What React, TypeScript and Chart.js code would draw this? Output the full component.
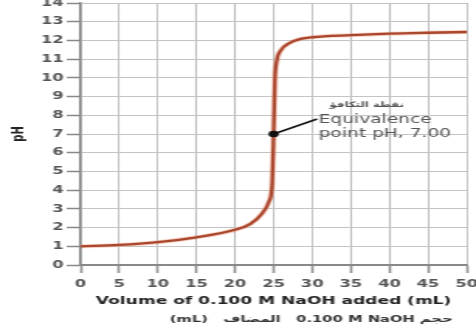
import React, { useEffect, useRef } from 'react';
import { Chart, registerables } from 'chart.js';

Chart.register(...registerables);

// ---- data ----
const volumeML = [0, 5, 10, 15, 20, 22, 23.5, 24.4, 24.8, 25, 25.15, 25.4, 25.9, 27, 28.5, 30, 35, 40, 45, 50];
const pHValues = [1.0, 1.07, 1.22, 1.48, 1.88, 2.2, 2.75, 3.4, 4.3, 7.0, 9.8, 10.9, 11.45, 11.85, 12.08, 12.17, 12.28, 12.36, 12.41, 12.45];
const equivalenceVolume = [25];
const equivalencePH = [7.0];
const xTickStep = 5;
const yTickStep = 1;
const xRange = [0, 50];
const yRange = [0, 14];
const xTitle = 'Volume of 0.100 M NaOH added (mL)';
const xTitleArabic = 'حجم \u200E0.100 M NaOH   المضاف   (mL)';
const yTitle = 'pH';
const annotationArabic = 'نقطة التكافؤ';
const annotationLines = ['Equivalence', 'point pH, 7.00'];

// ---- layout (canvas is drawn narrow and stretched horizontally like the reference) ----
const INNER_W = 307;
const INNER_H = 343;
const STRETCH = 476 / INNER_W;
const FONT = '"DejaVu Sans"';

const textPlugin = {
  id: 'textPlugin',
  afterDatasetsDraw(chart: any) {
    const { ctx, scales } = chart;
    const x = scales.x;
    const y = scales.y;
    const px = x.getPixelForValue(equivalenceVolume[0]);
    const py = y.getPixelForValue(equivalencePH[0]);
    ctx.save();
    ctx.strokeStyle = '#111';
    ctx.lineWidth = 1.6;
    ctx.beginPath();
    ctx.moveTo(px, py);
    ctx.lineTo(px + 28, py - 15);
    ctx.stroke();
    ctx.fillStyle = '#555';
    ctx.font = `12px ${FONT}`;
    ctx.textBaseline = 'middle';
    ctx.textAlign = 'left';
    ctx.fillText(annotationLines[0], px + 29, py - 14);
    ctx.fillText(annotationLines[1], px + 29, py - 0.5);
    ctx.font = `bold 7.5px ${FONT}`;
    ctx.direction = 'rtl';
    ctx.textAlign = 'center';
    ctx.fillText(annotationArabic, px + 60, py - 29);
    ctx.fillStyle = '#333';
    ctx.font = `bold 9.5px ${FONT}`;
    ctx.textAlign = 'right';
    ctx.fillText(xTitleArabic, 292, 330);
    ctx.restore();
  },
};

export default function App() {
  const ref = useRef<HTMLCanvasElement>(null);
  useEffect(() => {
    const curve = volumeML.map((v, i) => ({ x: v, y: pHValues[i] }));
    const dot = equivalenceVolume.map((v, i) => ({ x: v, y: equivalencePH[i] }));
    const chart = new Chart(ref.current as HTMLCanvasElement, {
      type: 'line',
      data: {
        datasets: [
          { data: dot, showLine: false, pointRadius: 3.3, pointBackgroundColor: '#111', pointBorderWidth: 0, order: 0 },
          { data: curve, borderColor: '#a9472f', borderWidth: 2.3, pointRadius: 0, cubicInterpolationMode: 'monotone', fill: false, order: 1 },
          { data: curve, borderColor: 'rgba(238,150,118,0.45)', borderWidth: 4, pointRadius: 0, cubicInterpolationMode: 'monotone', fill: false, order: 2 },
        ],
      },
      options: {
        responsive: false,
        animation: false,
        devicePixelRatio: 1,
        layout: { padding: { top: 13, left: 0, right: 6, bottom: 0 } },
        plugins: { legend: { display: false }, tooltip: { enabled: false }, title: { display: false } },
        scales: {
          x: {
            type: 'linear', min: xRange[0], max: xRange[1],
            ticks: { stepSize: xTickStep, autoSkip: false, maxRotation: 0, font: { family: FONT, weight: 'bold', size: 10.5 }, color: '#555', padding: 5 },
            grid: { color: '#b8b8b8', lineWidth: 1, tickLength: 8, tickColor: '#888', tickWidth: 1.5 },
            border: { color: '#888', width: 2 },
            title: { display: true, text: xTitle, font: { family: FONT, weight: 'bold', size: 11 }, color: '#222', padding: { top: 0, bottom: 25 } },
            afterFit: (s: any) => { s.height = INNER_H - 275; s.paddingLeft = 0; s.paddingRight = 0; },
          },
          y: {
            type: 'linear', min: yRange[0], max: yRange[1],
            ticks: { stepSize: yTickStep, autoSkip: false, font: { family: FONT, weight: 'bold', size: 10.5 }, color: '#555', padding: 2 },
            grid: { color: '#c4c4c4', lineWidth: 1, tickLength: 9, tickColor: '#888', tickWidth: 1.5 },
            border: { color: '#888', width: 1.5 },
            title: { display: true, text: yTitle, font: { family: FONT, weight: 'bold', size: 10 }, color: '#222', padding: { top: 6, bottom: 0 } },
            afterFit: (s: any) => { s.width = 52; s.paddingTop = 0; s.paddingBottom = 0; },
          },
        },
      },
      plugins: [textPlugin],
    } as any);
    return () => chart.destroy();
  }, []);
  return (
    <div style={{ position: 'fixed', left: 0, top: -10, width: INNER_W, height: INNER_H, transform: `scaleX(${STRETCH})`, transformOrigin: '0 0', background: '#fff' }}>
      <canvas ref={ref} width={INNER_W} height={INNER_H} />
    </div>
  );
}
